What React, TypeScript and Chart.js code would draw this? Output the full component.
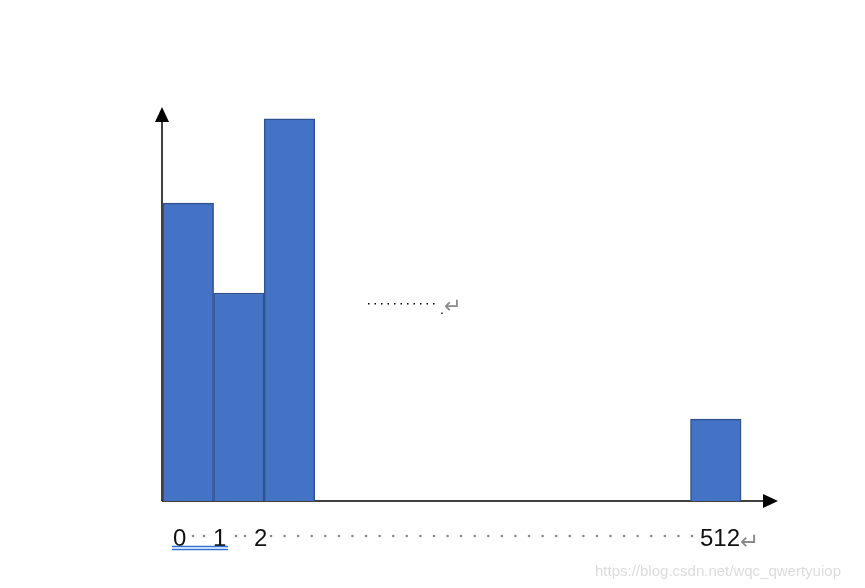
import React, { useEffect, useRef } from "react";
import { Chart, registerables } from "chart.js";

Chart.register(...registerables);

// ---- data ----
const binPositions = [0, 1, 2, 10.43];
const binCounts = [75.6, 52.8, 97, 20.8];
const tickLabels = ["0", "1", "2", "512"];
const returnMark = "\u21B5";
const middleNote = ".";
const watermark = "https://blog.csdn.net/wqc_qwertyuiop";

const W = 865;
const H = 588;

const diagramPlugin = {
  id: "diagram",
  beforeDatasetsDraw(chart: any) {
    const { ctx, chartArea } = chart;
    const { left, bottom, top, right } = chartArea;
    ctx.save();
    ctx.strokeStyle = "#000";
    ctx.fillStyle = "#000";
    ctx.lineWidth = 1.5;
    // y axis
    ctx.beginPath();
    ctx.moveTo(left, bottom);
    ctx.lineTo(left, top + 14);
    ctx.stroke();
    ctx.beginPath();
    ctx.moveTo(left, top);
    ctx.lineTo(left - 7, top + 15);
    ctx.lineTo(left + 7, top + 15);
    ctx.closePath();
    ctx.fill();
    // x axis
    ctx.beginPath();
    ctx.moveTo(left, bottom);
    ctx.lineTo(right - 14, bottom);
    ctx.stroke();
    ctx.beginPath();
    ctx.moveTo(right, bottom);
    ctx.lineTo(right - 15, bottom - 7);
    ctx.lineTo(right - 15, bottom + 7);
    ctx.closePath();
    ctx.fill();
    ctx.restore();
  },
  afterDraw(chart: any) {
    const { ctx } = chart;
    ctx.save();
    // middle note
    ctx.fillStyle = "#000";
    for (let i = 0; i < 11; i++) {
      ctx.fillRect(368 + i * 6.5, 303, 1.5, 1.5);
    }
    ctx.font = "14px 'Liberation Sans'";
    ctx.textBaseline = "alphabetic";
    ctx.fillText(middleNote, 440, 314);
    ctx.fillStyle = "#8a8a8a";
    ctx.font = "21px 'DejaVu Sans'";
    ctx.fillText(returnMark, 444, 313);

    // tick labels
    ctx.font = "24px 'Liberation Sans'";
    ctx.fillStyle = "#111";
    const lx = [173, 213, 254, 700];
    tickLabels.forEach((t, i) => ctx.fillText(t, lx[i], 546));
    ctx.fillStyle = "#8a8a8a";
    ctx.font = "23px 'DejaVu Sans'";
    ctx.fillText(returnMark, 740, 549);

    // dot leaders
    ctx.fillStyle = "#8a8a8a";
    const dots: number[] = [193, 204, 236, 245];
    const n = 32;
    for (let i = 0; i < n; i++) dots.push(271 + (i * (692 - 271)) / (n - 1));
    dots.forEach((x) => {
      ctx.beginPath();
      ctx.arc(x, 536, 1.3, 0, Math.PI * 2);
      ctx.fill();
    });

    // double underline
    ctx.strokeStyle = "#2f6fd6";
    ctx.lineWidth = 1.3;
    ctx.beginPath();
    ctx.moveTo(172, 546.5);
    ctx.lineTo(228, 546.5);
    ctx.moveTo(172, 549.5);
    ctx.lineTo(228, 549.5);
    ctx.stroke();

    // watermark
    ctx.fillStyle = "#dcdcdc";
    ctx.font = "15px 'Liberation Sans'";
    ctx.fillText(watermark, 595, 576);
    ctx.restore();
  },
};

export default function App() {
  const ref = useRef<HTMLCanvasElement | null>(null);
  useEffect(() => {
    if (!ref.current) return;
    const chart = new Chart(ref.current, {
      type: "bar",
      data: {
        datasets: [
          {
            data: binPositions.map((x, i) => ({ x, y: binCounts[i] })),
            backgroundColor: "#4472C4",
            borderColor: "#2F528F",
            borderWidth: 1.5,
            barPercentage: 1,
            categoryPercentage: 1,
          },
        ],
      },
      options: {
        responsive: false,
        animation: false,
        layout: { padding: { left: 162, right: 87, top: 107, bottom: 87 } },
        scales: {
          x: { type: "linear", min: -0.52, max: 11.66, display: false, offset: false },
          y: { min: 0, max: 100, display: false },
        },
        plugins: { legend: { display: false }, tooltip: { enabled: false } },
      },
      plugins: [diagramPlugin],
    } as any);
    return () => chart.destroy();
  }, []);
  return (
    <div style={{ position: "fixed", left: 0, top: 0, width: W, height: H, background: "#fff" }}>
      <canvas ref={ref} width={W} height={H} style={{ width: W, height: H, display: "block" }} />
    </div>
  );
}
